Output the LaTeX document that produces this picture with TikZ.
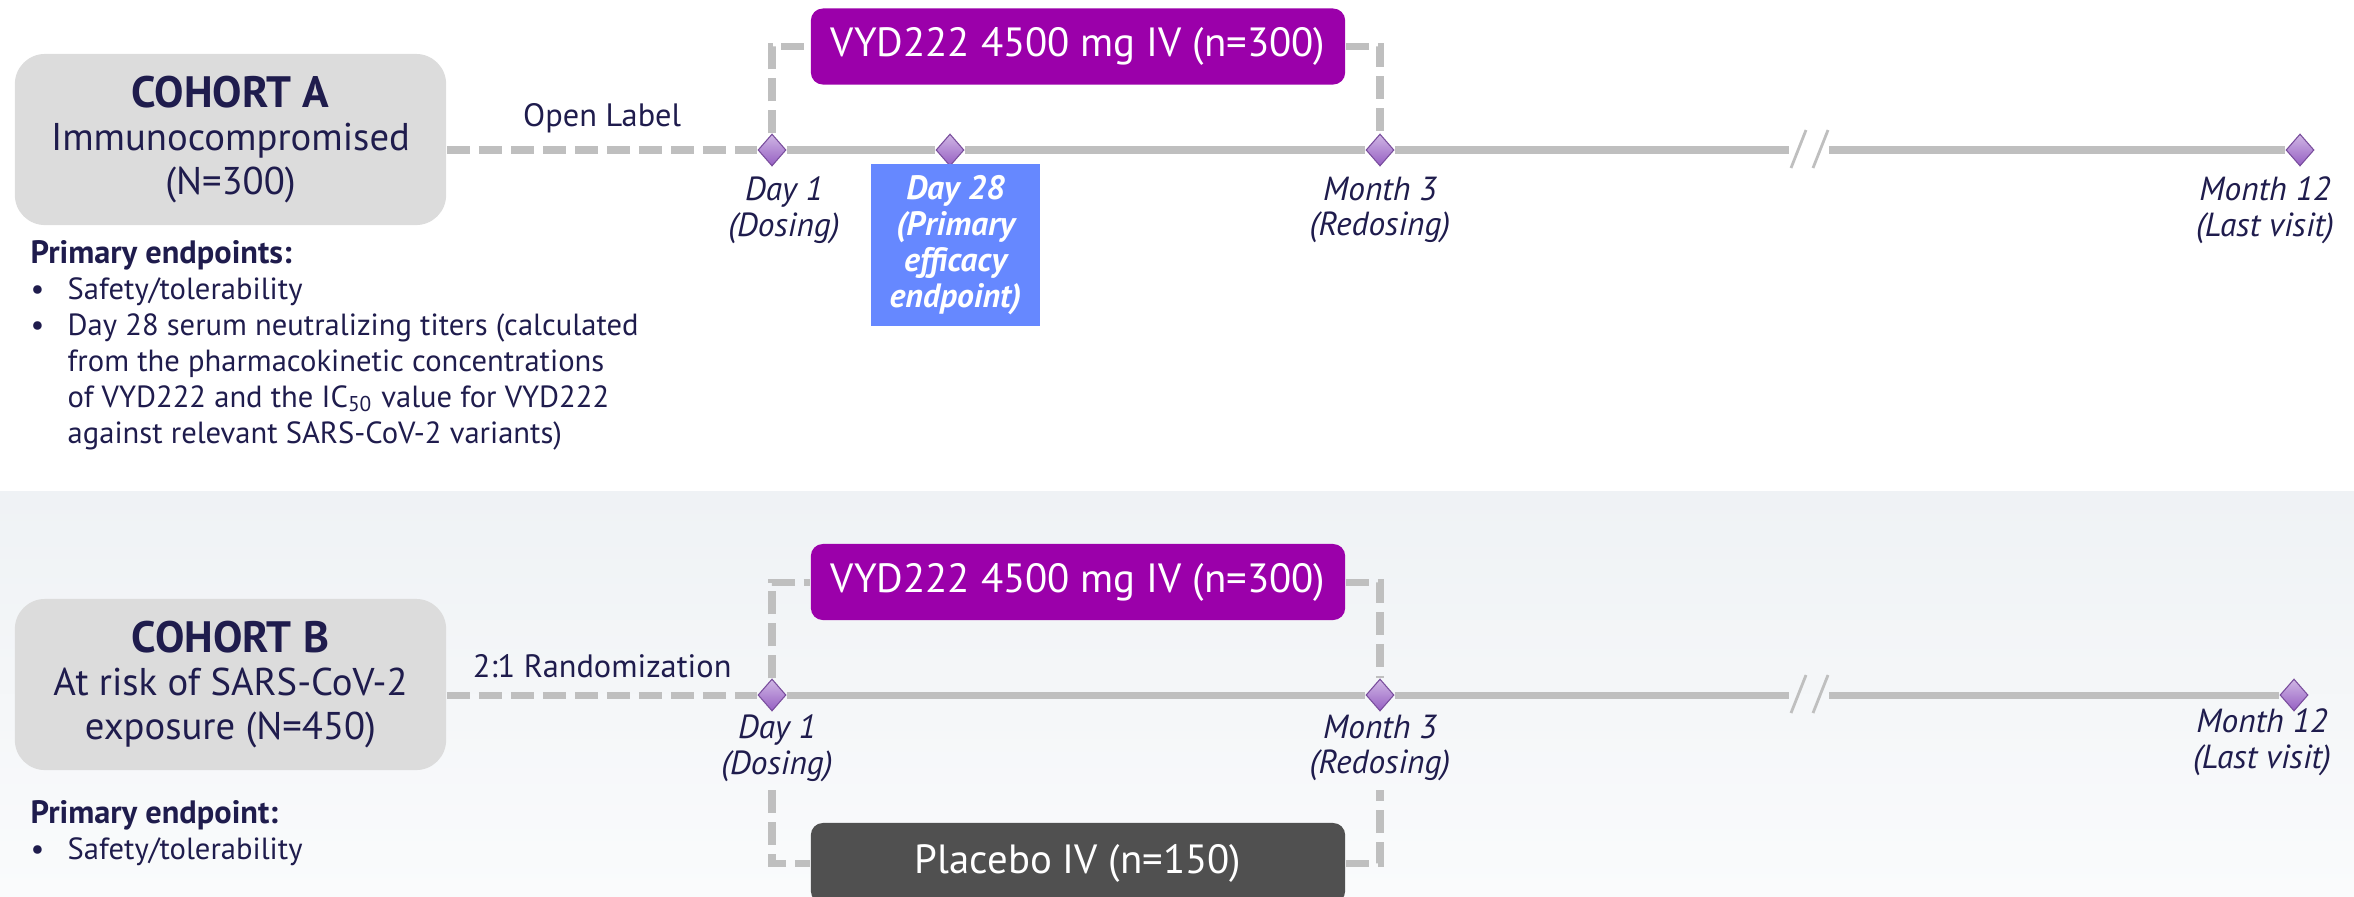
\documentclass[tikz,border=0pt]{standalone}
\usepackage{fontspec}
\setmainfont{PT Sans}
\usepackage{xcolor}
\usetikzlibrary{shapes.geometric, positioning, calc}
\definecolor{cNavy}{RGB}{31,28,77}
\definecolor{cCohort}{RGB}{220,220,220}
\definecolor{cArm}{RGB}{155,0,170}
\definecolor{cPlacebo}{RGB}{80,80,80}
\definecolor{cBlue}{RGB}{102,136,255}
\definecolor{cLine}{RGB}{191,191,191}
\definecolor{cDiamond}{RGB}{150,95,195}
\definecolor{cBgTop}{RGB}{239,242,245}
\definecolor{cBgBot}{RGB}{250,251,252}
\tikzset{
	cohortbox/.style={rectangle, rounded corners=0.3cm, minimum width=4.31cm, minimum height=1.71cm, fill=cCohort, text=cNavy, align=center, font=\fontsize{11}{12.3}\selectfont},
	armbox/.style={rectangle, rounded corners=0.12cm, minimum width=5.34cm, minimum height=0.76cm, text=white, font=\fontsize{11.6}{13}\selectfont},
	milestone/.style={diamond, minimum width=0.28cm, minimum height=0.32cm, inner sep=0pt, top color=cDiamond!45!white, bottom color=cDiamond, draw=cDiamond!80!black, line width=0.3pt},
	mlabel/.style={text=cNavy, align=center, font=\fontsize{9.5}{10.2}\selectfont\itshape},
	armlabel/.style={above=0.02cm, text=cNavy, font=\fontsize{9.2}{10}\selectfont},
	dashline/.style={draw=cLine, line width=2pt, dash pattern=on 0.23cm off 0.09cm},
	timeline/.style={draw=cLine, line width=2pt},
	brk/.style={draw=cLine, line width=0.8pt},
	endpoints/.style={anchor=north west, text=cNavy, align=left, inner sep=0pt, font=\fontsize{8.7}{10.2}\selectfont},
}

\begin{document}
\begin{tikzpicture}[x=0.01cm, y=-0.01cm]
	\useasboundingbox (0,0) rectangle (2354,896);
	\clip (0,0) rectangle (2354,896);
	% background of the lower panel
	\fill[top color=cBgTop, bottom color=cBgBot] (0,491) rectangle (2354,896);

	% ---- cohort A ----
	\node[cohortbox] (cohA) at (230.5,139.5) {{\fontsize{12.5}{13}\selectfont\textbf{COHORT A}}\\Immunocompromised\\(N=300)};
	\node[milestone] (d1A) at (772,150) {};
	\node[milestone] (d28A) at (950,150) {};
	\node[milestone] (m3A) at (1380,150) {};
	\node[milestone] (m12A) at (2300,150) {};
	\coordinate (brkAl) at (1789,150);
	\coordinate (brkAr) at (1829,150);
	\draw[timeline] (d1A) -- (d28A);
	\draw[timeline] (d28A) -- (m3A);
	\draw[timeline] (m3A) -- (brkAl);
	\draw[timeline] (brkAr) -- (m12A);
	\draw[brk] (1791,168) -- (1806,130) (1813,168) -- (1828,130);
	\draw[dashline] (cohA.east |- d1A) -- node[armlabel] (olbl) {Open Label} (d1A.west);
	\node[armbox, fill=cArm] (armA) at (1078,46.5) {VYD222 4500 mg IV (n=300)};
	\draw[dashline] (d1A.north) |- (armA.west);
	\draw[dashline] (armA.east) -| (m3A.north);
	\node[rectangle, fill=cBlue, minimum width=1.69cm, minimum height=1.5cm, text=white, align=center, font=\fontsize{9.6}{10.2}\selectfont\bfseries\itshape] (dayA) at (955.5,245) {Day 28\\(Primary\\efficacy\\endpoint)};
	\node[mlabel] (lbl1A) at (784,210) {Day 1\\(Dosing)};
	\node[mlabel] (lbl3A) at (1380,210) {Month 3\\(Redosing)};
	\node[mlabel] (lbl12A) at (2265,210) {Month 12\\(Last visit)};
	\node[endpoints] (epA) at (30,238) {%
		\begin{tabular}{@{}p{0.37cm}@{}l@{}}
			\multicolumn{2}{@{}l@{}}{\fontsize{9.2}{10.2}\selectfont\textbf{Primary endpoints:}}\\
			\textbullet & Safety/tolerability\\
			\textbullet & Day 28 serum neutralizing titers (calculated\\
			& from the pharmacokinetic concentrations\\
			& of VYD222 and the IC\textsubscript{50} value for VYD222\\
			& against relevant SARS-CoV-2 variants)
		\end{tabular}};

	% ---- cohort B ----
	\node[cohortbox] (cohB) at (230.5,684.5) {{\fontsize{12.5}{13}\selectfont\textbf{COHORT B}}\\At risk of SARS-CoV-2\\exposure (N=450)};
	\node[milestone] (d1B) at (772,695) {};
	\node[milestone] (m3B) at (1380,695) {};
	\node[milestone] (m12B) at (2294,695) {};
	\coordinate (brkBl) at (1789,695);
	\coordinate (brkBr) at (1829,695);
	\draw[timeline] (d1B) -- (m3B);
	\draw[timeline] (m3B) -- (brkBl);
	\draw[timeline] (brkBr) -- (m12B);
	\draw[brk] (1791,713) -- (1806,675) (1813,713) -- (1828,675);
	\draw[dashline] (cohB.east |- d1B) -- node[armlabel] (rlbl) {2:1 Randomization} (d1B.west);
	\node[armbox, fill=cArm] (armB) at (1078,582) {VYD222 4500 mg IV (n=300)};
	\node[armbox, fill=cPlacebo, minimum height=0.8cm] (plcB) at (1078,863) {Placebo IV (n=150)};
	\draw[dashline] (d1B.north) |- (armB.west);
	\draw[dashline] (armB.east) -| (m3B.north);
	\coordinate (d1Bdn) at (772,790);
	\coordinate (m3Bdn) at (1380,790);
	\draw[dashline] (d1Bdn) |- (plcB.west);
	\draw[dashline] (plcB.east) -| (m3Bdn);
	\node[mlabel] (lbl1B) at (777,748) {Day 1\\(Dosing)};
	\node[mlabel] (lbl3B) at (1380,748) {Month 3\\(Redosing)};
	\node[mlabel] (lbl12B) at (2262,742) {Month 12\\(Last visit)};
	\node[endpoints] (epB) at (30,798) {%
		\begin{tabular}{@{}p{0.37cm}@{}l@{}}
			\multicolumn{2}{@{}l@{}}{\fontsize{9.2}{10.2}\selectfont\textbf{Primary endpoint:}}\\
			\textbullet & Safety/tolerability
		\end{tabular}};
\end{tikzpicture}
\end{document}
